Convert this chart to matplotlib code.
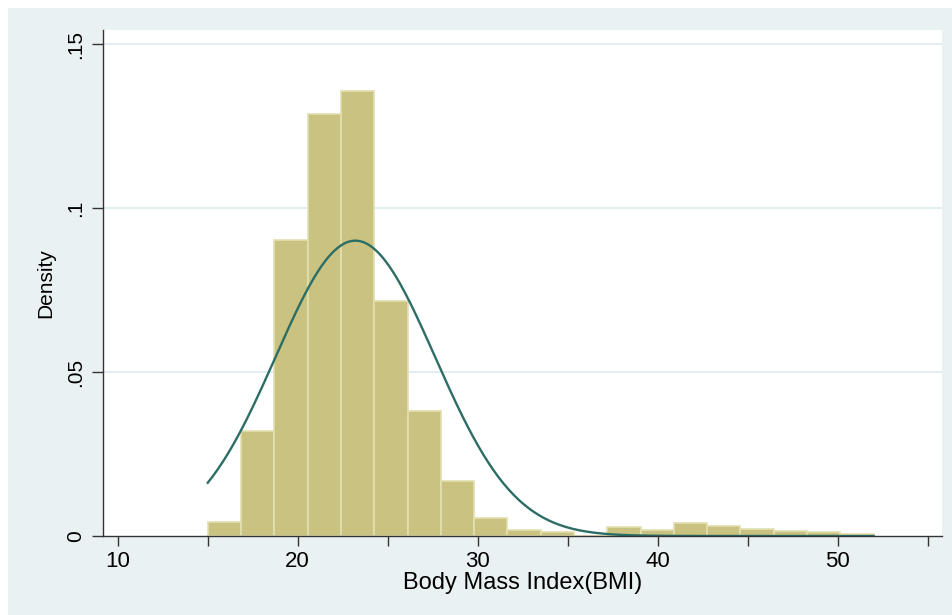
import numpy as np
import matplotlib
matplotlib.use("Agg")
import matplotlib.pyplot as plt
from matplotlib.patches import Rectangle

# histogram: 20 bins from 15 to 52
bmi_min = 15.0
bmi_max = 52.0
n_bins = 20
density = [0.0044, 0.0321, 0.0902, 0.1288, 0.1357, 0.0717, 0.0382, 0.0169,
           0.0056, 0.0018, 0.0011, 0.0, 0.0027, 0.0018, 0.0039, 0.0031,
           0.0020, 0.0016, 0.0011, 0.0006]

# fitted normal curve (Stata "normal" option)
bmi_mean = 23.2
bmi_sd = 4.43

x_ticks = [10, 20, 30, 40, 50]
x_minor = [15, 25, 35, 45, 55]
y_ticks = [0, 0.05, 0.1, 0.15]
y_labels = ["0", ".05", ".1", ".15"]

plt.rcParams['font.family'] = ['Liberation Sans', 'DejaVu Sans']

W, H = 952, 615
fig = plt.figure(figsize=(W / 100, H / 100), dpi=100)
fig.patch.set_facecolor('white')
fig.patches.append(Rectangle((8 / W, 0), 1, 1 - 8 / H, transform=fig.transFigure,
                             facecolor='#EAF1F3', edgecolor='none', zorder=-10))

ax = fig.add_axes([103 / W, 79 / H, (941.7 - 103) / W, (536 - 30) / H])
ax.set_facecolor('white')

edges = np.linspace(bmi_min, bmi_max, n_bins + 1)
width = edges[1] - edges[0]
ax.bar(edges[:-1], density, width=width, align='edge', color='#C9C280',
       edgecolor='#E3DFB0', linewidth=1.2, zorder=2)

xs = np.linspace(bmi_min, bmi_max, 400)
pdf = np.exp(-0.5 * ((xs - bmi_mean) / bmi_sd) ** 2) / (bmi_sd * np.sqrt(2 * np.pi))
ax.plot(xs, pdf, color='#2C6E66', lw=1.7, zorder=3)

ax.set_xlim(9.18, 55.78)
ax.set_ylim(0, 0.1543)

for v in y_ticks[1:]:
    ax.axhline(v, color='#E3ECEF', lw=1.5, zorder=0)

for s in ['top', 'right']:
    ax.spines[s].set_visible(False)
for s in ['left', 'bottom']:
    ax.spines[s].set_color('#333333')
    ax.spines[s].set_linewidth(1.0)
    ax.spines[s].set_zorder(4)

ax.set_xticks(x_ticks)
ax.set_xticks(x_minor, minor=True)
ax.set_xticklabels([str(t) for t in x_ticks], fontsize=16)
ax.tick_params(axis='x', which='both', length=7, width=1, color='#333333', pad=4)

ax.set_yticks(y_ticks)
ax.set_yticklabels(y_labels, fontsize=15, rotation=90, va='center')
ax.tick_params(axis='y', length=8, width=1, color='#333333', pad=5)

ax.set_xlabel('Body Mass Index(BMI)', fontsize=17, labelpad=0)
ax.set_ylabel('Density', fontsize=15, labelpad=8)

fig.savefig('out.png', dpi=100)
